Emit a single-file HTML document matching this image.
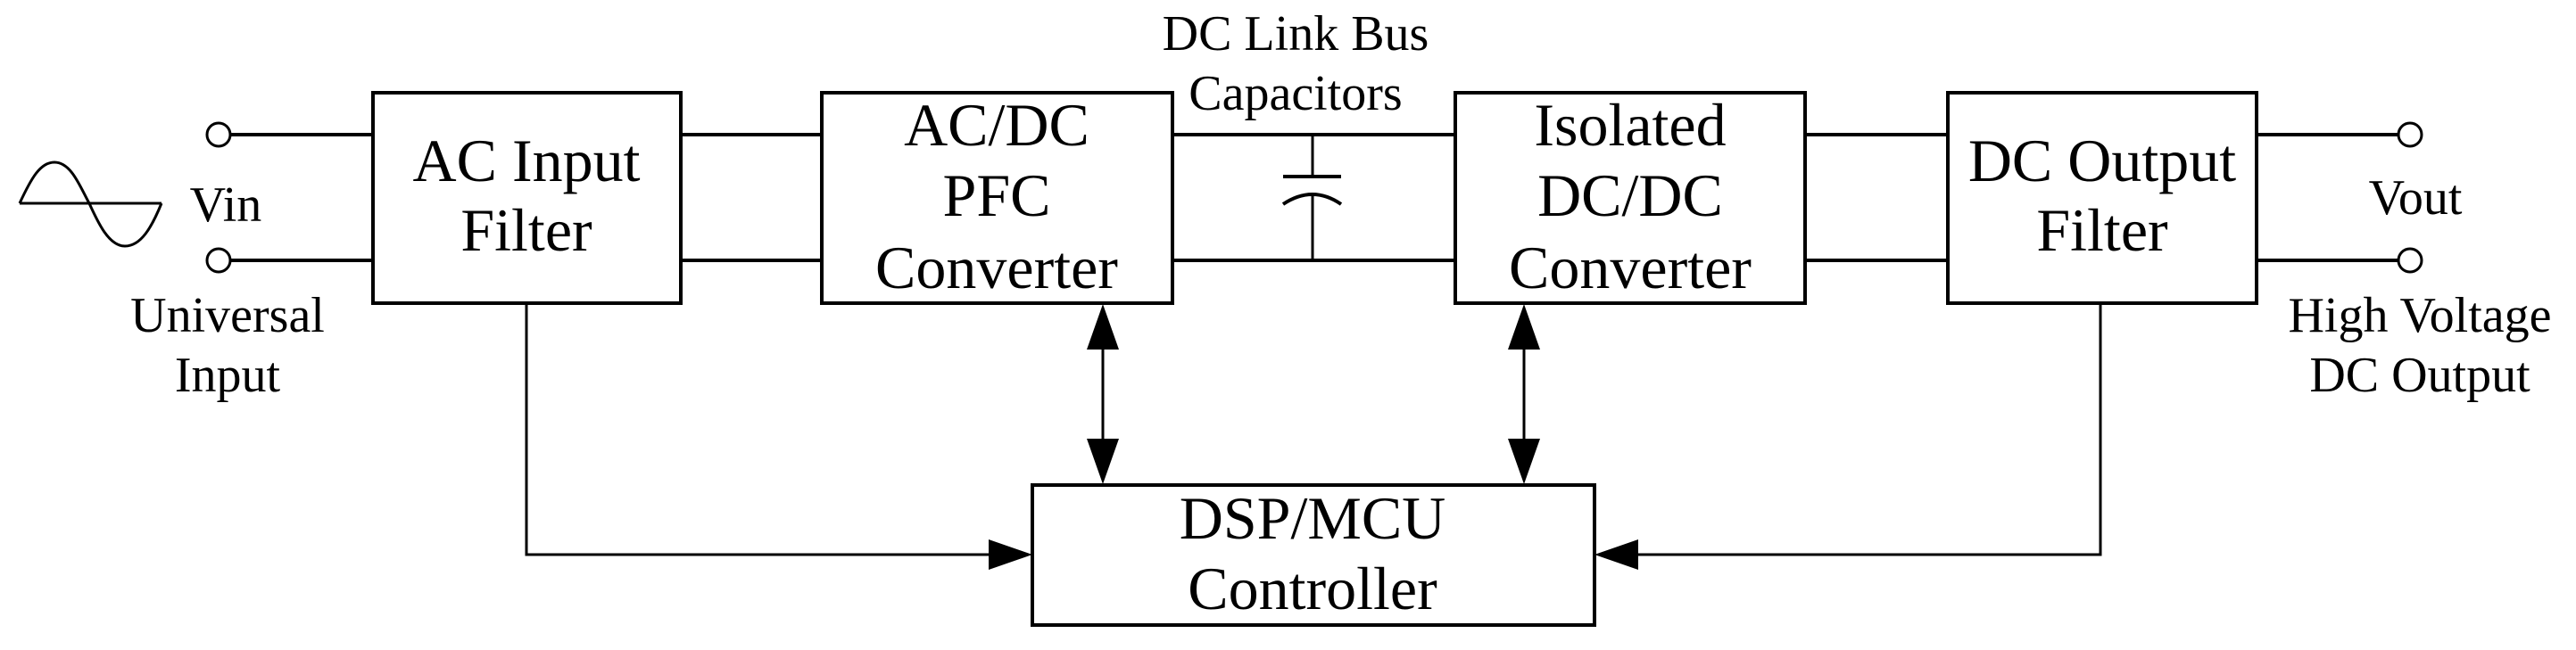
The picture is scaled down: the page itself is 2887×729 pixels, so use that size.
<!DOCTYPE html>
<html><head><meta charset="utf-8"><style>
html,body{margin:0;padding:0;background:#fff}
svg{display:block}
text{font-family:"Liberation Serif",serif;fill:#000}
</style></head><body>
<svg width="2887" height="729" viewBox="0 0 2887 729" xmlns="http://www.w3.org/2000/svg">
<g fill="none" stroke="#000" stroke-width="4">
<!-- sine -->
<path d="M22 228 L181 228" stroke-width="3"/>
<path d="M22 228 C35 200,45 182,61 182 C80 182,90 210,100 228 C110 250,122 276,140 276 C158 276,170 255,181 228" stroke-width="3"/>
<!-- input terminals -->
<circle cx="245" cy="151" r="13" stroke-width="3"/>
<circle cx="245" cy="292" r="13" stroke-width="3"/>
<line x1="258" y1="151" x2="416" y2="151"/>
<line x1="258" y1="292" x2="416" y2="292"/>
<!-- boxes -->
<rect x="418" y="104" width="345" height="236"/>
<rect x="921" y="104" width="393" height="236"/>
<rect x="1631" y="104" width="392" height="236"/>
<rect x="2183" y="104" width="346" height="236"/>
<rect x="1157" y="544" width="630" height="157"/>
<!-- wires -->
<line x1="763" y1="151" x2="921" y2="151"/>
<line x1="763" y1="292" x2="921" y2="292"/>
<line x1="1314" y1="151" x2="1631" y2="151"/>
<line x1="1314" y1="292" x2="1631" y2="292"/>
<line x1="2023" y1="151" x2="2183" y2="151"/>
<line x1="2023" y1="292" x2="2183" y2="292"/>
<line x1="2529" y1="151" x2="2688" y2="151"/>
<line x1="2529" y1="292" x2="2688" y2="292"/>
<circle cx="2701" cy="151" r="13" stroke-width="3"/>
<circle cx="2701" cy="292" r="13" stroke-width="3"/>
<!-- capacitor -->
<line x1="1471" y1="151" x2="1471" y2="198" stroke-width="3"/>
<line x1="1438" y1="198" x2="1503" y2="198"/>
<path d="M1438 229 Q1471 207 1503 229"/>
<line x1="1471" y1="219" x2="1471" y2="292" stroke-width="3"/>
<!-- feedback -->
<polyline points="590,340 590,622 1110,622" stroke-width="3"/>
<polyline points="2354,340 2354,622 1834,622" stroke-width="3"/>
<line x1="1236" y1="390" x2="1236" y2="494" stroke-width="3"/>
<line x1="1708" y1="390" x2="1708" y2="494" stroke-width="3"/>
</g>
<g fill="#000">
<polygon points="1157,622 1108,605 1108,639"/>
<polygon points="1787,622 1836,605 1836,639"/>
<polygon points="1236,341 1218,392 1254,392"/>
<polygon points="1236,543 1218,492 1254,492"/>
<polygon points="1708,341 1690,392 1726,392"/>
<polygon points="1708,543 1690,492 1726,492"/>
</g>
<g font-size="68" text-anchor="middle">
<text x="590" y="203">AC Input</text>
<text x="590" y="281">Filter</text>
<text x="1117" y="163">AC/DC</text>
<text x="1117" y="242">PFC</text>
<text x="1117" y="323">Converter</text>
<text x="1827" y="163">Isolated</text>
<text x="1827" y="242">DC/DC</text>
<text x="1827" y="323">Converter</text>
<text x="2356" y="203">DC Output</text>
<text x="2356" y="281">Filter</text>
<text x="1471" y="604">DSP/MCU</text>
<text x="1471" y="683">Controller</text>
</g>
<g font-size="56" text-anchor="middle">
<text x="253" y="248">Vin</text>
<text x="255" y="372">Universal</text>
<text x="255" y="439">Input</text>
<text x="1452" y="56">DC Link Bus</text>
<text x="1452" y="123">Capacitors</text>
<text x="2707" y="240">Vout</text>
<text x="2712" y="372">High Voltage</text>
<text x="2712" y="439">DC Output</text>
</g>
</svg>
</body></html>
